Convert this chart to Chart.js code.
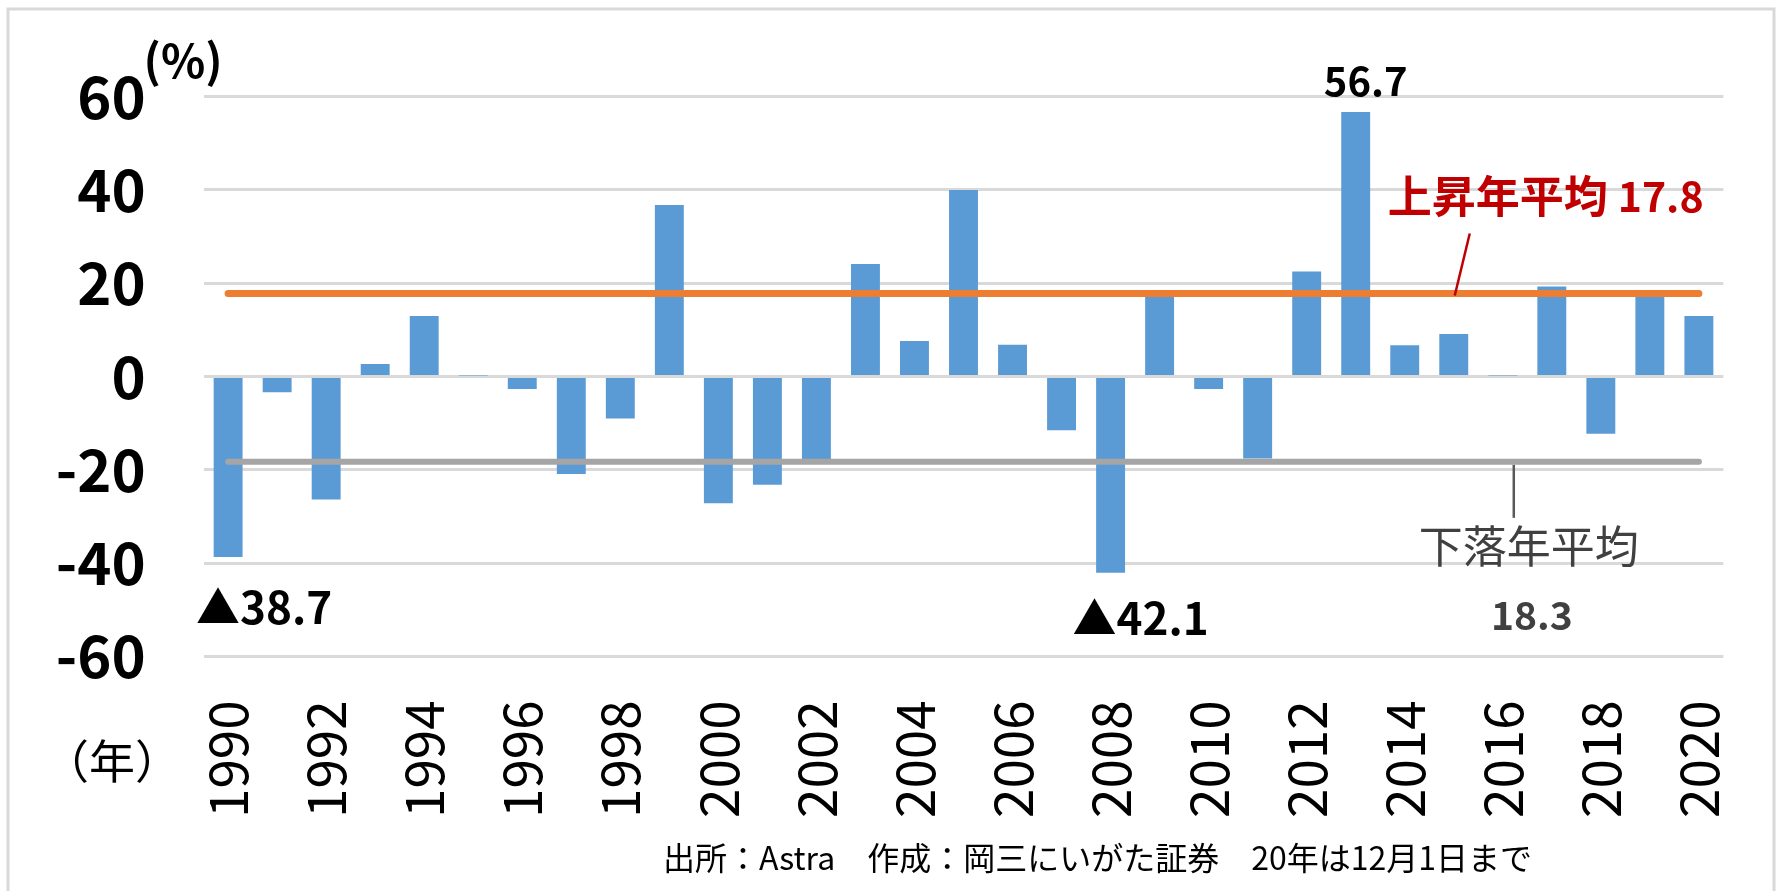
<!DOCTYPE html>
<html>
<head>
<meta charset="utf-8">
<script src="https://cdn.jsdelivr.net/npm/chart.js@4.4.1/dist/chart.umd.min.js"></script>
<style>
  html, body { margin: 0; padding: 0; background: #ffffff; }
  #wrap { width: 1781px; height: 891px; position: relative; }
</style>
</head>
<body>
<div id="wrap"><canvas id="c" width="1781" height="891"></canvas></div>
<script>
// ---- data ----
const years = ['1990','1991','1992','1993','1994','1995','1996','1997','1998','1999',
               '2000','2001','2002','2003','2004','2005','2006','2007','2008','2009',
               '2010','2011','2012','2013','2014','2015','2016','2017','2018','2019','2020'];
const returns = [-38.7, -3.4, -26.4, 2.7, 13.0, 0.2, -2.7, -20.9, -9.0, 36.8,
                 -27.2, -23.2, -17.8, 24.1, 7.6, 40.0, 6.8, -11.5, -42.1, 17.6,
                 -2.7, -17.6, 22.5, 56.7, 6.7, 9.1, 0.2, 19.3, -12.3, 17.5, 13.0];
const upAvg = 17.8;
const downAvg = -18.3;
const yTicks = [-60, -40, -20, 0, 20, 40, 60];
const xTickYears = ['1990','1992','1994','1996','1998','2000','2002','2004','2006','2008',
                    '2010','2012','2014','2016','2018','2020'];
const footerText = '出所：Astra　作成：岡三にいがた証券　20年は12月1日まで';

const JP = '"Noto Sans CJK JP", "Noto Sans", sans-serif';

const annotationPlugin = {
  id: 'annot',
  afterDatasetsDraw(chart) {
    const ctx = chart.ctx;
    const xs = chart.scales.x, ys = chart.scales.y;
    const X = (yr) => xs.getPixelForValue(years.indexOf(yr));
    const Y = (v) => ys.getPixelForValue(v);
    ctx.save();
    // peak label
    ctx.fillStyle = '#000000';
    ctx.font = 'bold 40px ' + JP;
    ctx.textAlign = 'center';
    ctx.textBaseline = 'alphabetic';
    ctx.fillText('56.7', X('2013') + 10, Y(56.7) - 16);
    // trough labels
    ctx.textAlign = 'left';
    ctx.textBaseline = 'middle';
    ctx.font = 'bold 44px ' + JP;
    ctx.fillText('▲38.7', X('1990') - 32, Y(-38.7) + 50);
    ctx.fillText('▲42.1', X('2008') - 38, Y(-42.1) + 45);
    // up-year average label
    ctx.fillStyle = '#C00000';
    ctx.font = 'bold 44px ' + JP;
    ctx.textBaseline = 'alphabetic';
    const upLeft = X('2013') + 32;
    const upBase = Y(upAvg) - 80;
    ctx.fillText('上昇年平均', upLeft, upBase);
    const w1 = ctx.measureText('上昇年平均').width;
    ctx.font = 'bold 41px ' + JP;
    ctx.fillText('17.8', upLeft + w1 + 10, upBase - 1);
    ctx.strokeStyle = '#C00000';
    ctx.lineWidth = 2.5;
    ctx.beginPath();
    ctx.moveTo(X('2015') + 16, Y(upAvg) - 60);
    ctx.lineTo(X('2015') + 1, Y(upAvg) + 2);
    ctx.stroke();
    // down-year average label
    ctx.fillStyle = '#404040';
    ctx.font = '44px ' + JP;
    ctx.textAlign = 'center';
    ctx.textBaseline = 'middle';
    ctx.fillText('下落年平均', X('2016') + 26, Y(downAvg) + 84);
    ctx.font = 'bold 39px ' + JP;
    ctx.fillText('18.3', X('2016') + 29, Y(downAvg) + 153);
    ctx.strokeStyle = '#595959';
    ctx.lineWidth = 2.5;
    ctx.beginPath();
    ctx.moveTo(X('2016') + 11, Y(downAvg) + 3);
    ctx.lineTo(X('2016') + 11, Y(downAvg) + 56);
    ctx.stroke();
    // axis unit labels
    ctx.fillStyle = '#000000';
    ctx.font = 'bold 46px ' + JP;
    ctx.textAlign = 'left';
    ctx.textBaseline = 'middle';
    ctx.fillText('(%)', chart.chartArea.left - 60, Y(60) - 36);
    ctx.font = '46px ' + JP;
    ctx.textAlign = 'center';
    ctx.fillText('（年）', 112, 761);
    // footer
    ctx.font = '32px ' + JP;
    ctx.textAlign = 'left';
    ctx.fillText(footerText, 663, 858);
    // outer border
    ctx.strokeStyle = '#D9D9D9';
    ctx.lineWidth = 3;
    ctx.strokeRect(8, 9, 1766, 900);
    ctx.restore();
  }
};

new Chart(document.getElementById('c'), {
  data: {
    labels: years,
    datasets: [
      {
        type: 'line',
        data: [{x: years[0], y: upAvg}, {x: years[years.length - 1], y: upAvg}],
        borderColor: '#ED7D31',
        borderWidth: 7,
        borderCapStyle: 'round',
        pointRadius: 0,
        order: 1
      },
      {
        type: 'line',
        data: [{x: years[0], y: downAvg}, {x: years[years.length - 1], y: downAvg}],
        borderColor: '#A5A5A5',
        borderWidth: 6,
        borderCapStyle: 'round',
        pointRadius: 0,
        order: 1
      },
      {
        type: 'bar',
        data: returns,
        backgroundColor: '#5B9BD5',
        borderWidth: 0,
        barPercentage: 0.59,
        categoryPercentage: 1.0,
        order: 2
      }
    ]
  },
  options: {
    responsive: false,
    animation: false,
    devicePixelRatio: 1,
    layout: { padding: { left: 0, right: 57.6, top: 96.7, bottom: 0 } },
    plugins: { legend: { display: false }, tooltip: { enabled: false } },
    scales: {
      x: {
        type: 'category',
        offset: true,
        grid: { display: false, drawTicks: false },
        border: { display: false },
        afterFit(scale) {
          scale.height = 891 - 656.3;
          scale.paddingLeft = 0;
          scale.paddingRight = 0;
        },
        ticks: {
          autoSkip: false,
          minRotation: 90,
          maxRotation: 90,
          padding: 44,
          color: '#000000',
          font: { family: JP, size: 53, weight: 'normal' },
          callback(value, index) {
            const lab = years[index];
            return xTickYears.includes(lab) ? lab : '';
          }
        }
      },
      y: {
        min: yTicks[0],
        max: yTicks[yTicks.length - 1],
        afterBuildTicks(scale) { scale.ticks = yTicks.map(v => ({ value: v })); },
        afterFit(scale) {
          scale.width = 203.6;
          scale.paddingTop = 0;
          scale.paddingBottom = 0;
        },
        grid: { color: '#D9D9D9', lineWidth: 3, drawTicks: false },
        border: { display: false },
        ticks: {
          padding: 58,
          color: '#000000',
          font: { family: JP, size: 58, weight: 'bold' }
        }
      }
    }
  },
  plugins: [annotationPlugin]
});
</script>
</body>
</html>
